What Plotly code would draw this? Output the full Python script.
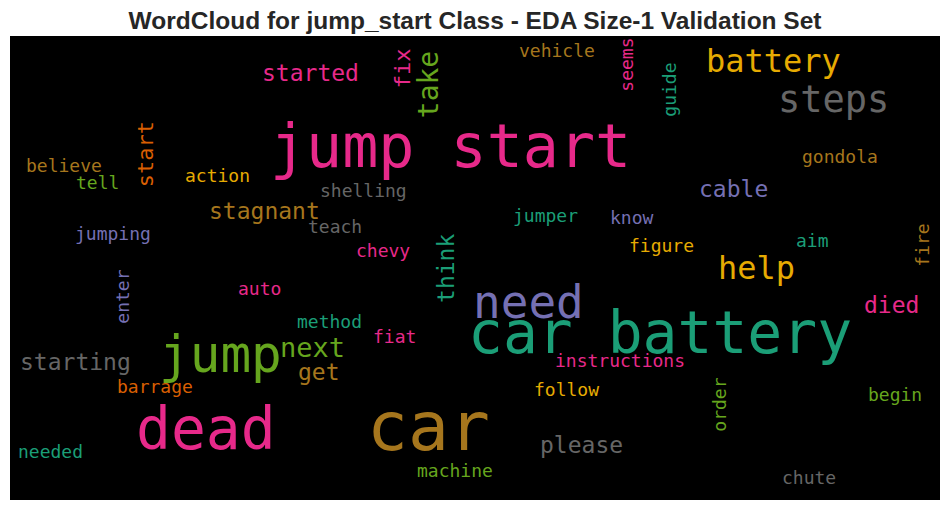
import plotly.graph_objects as go

# Word cloud words.
words = ['jump start', 'car battery', 'car', 'dead', 'jump', 'need', 'steps',
         'battery', 'help', 'take', 'next', 'started', 'fix', 'stagnant', 'cable',
         'think', 'died', 'starting', 'get', 'please', 'start', 'believe', 'tell',
         'action', 'shelling', 'teach', 'jumping', 'chevy', 'vehicle', 'seems',
         'guide', 'gondola', 'jumper', 'know', 'aim', 'figure', 'fire', 'enter',
         'auto', 'method', 'fiat', 'barrage', 'needed', 'machine', 'instructions',
         'follow', 'order', 'begin', 'chute']
# x: ink centre (or baseline for vertical words), y: baseline (or ink centre for vertical words), in pixels
x = [450, 660, 428, 206, 220, 528, 833,
     773, 756, 438, 312, 310, 410, 264, 733,
     454, 891, 75, 319, 581, 153, 64, 97,
     217, 363, 335, 113, 383, 557, 632,
     675, 840, 545, 632, 812, 661, 928, 128,
     259, 329, 394, 155, 50, 455, 620,
     566, 725, 895, 809]
y = [167, 353, 450, 449, 372, 318, 112,
     72, 279, 85, 357, 81, 68, 219, 197,
     268, 313, 370, 380, 453, 154, 172, 189,
     182, 197, 233, 240, 257, 57, 65,
     90, 163, 222, 224, 247, 252, 245, 297,
     295, 328, 343, 393, 458, 477, 367,
     396, 405, 401, 484]
sizes = [60, 58, 68, 58, 51, 46, 37,
         32, 32, 28, 27, 23, 22, 23, 23,
         23, 23, 23, 23, 23, 22, 18, 18,
         18, 18, 18, 18, 18, 18, 18,
         18, 18, 18, 18, 18, 18, 18, 18,
         18, 18, 18, 18, 18, 18, 18,
         18, 18, 18, 18]
colors = ['#e7298a', '#1b9e77', '#a6761d', '#e7298a', '#66a61e', '#7570b3', '#666666',
          '#e6ab02', '#e6ab02', '#66a61e', '#66a61e', '#e7298a', '#e7298a', '#a6761d', '#7570b3',
          '#1b9e77', '#e7298a', '#666666', '#a6761d', '#666666', '#d95f02', '#a6761d', '#66a61e',
          '#e6ab02', '#666666', '#666666', '#7570b3', '#e7298a', '#a6761d', '#e7298a',
          '#1b9e77', '#a6761d', '#1b9e77', '#7570b3', '#1b9e77', '#e6ab02', '#a6761d', '#7570b3',
          '#e7298a', '#1b9e77', '#e7298a', '#d95f02', '#1b9e77', '#66a61e', '#e7298a',
          '#e6ab02', '#66a61e', '#66a61e', '#666666']
vertical = ['take', 'fix', 'think', 'start', 'seems', 'guide', 'fire', 'enter', 'order']

# Generate word cloud.
fig = go.Figure()
for w, px, py, s, c in zip(words, x, y, sizes, colors):
    off = 0.35 * s  # baseline -> centre of text box
    if w in vertical:
        ax, ay, ang = px - off, py, -90
    else:
        ax, ay, ang = px, py - off, 0
    fig.add_annotation(x=ax, y=ay, xref='x', yref='y', text=w, showarrow=False,
                       textangle=ang, xanchor='center', yanchor='middle',
                       font=dict(family='DejaVu Sans Mono', size=s, color=c))

# The page body adds an 8px margin, so the figure is a bit smaller than the window.
fig.update_layout(
    width=942, height=503,
    margin=dict(l=2, r=10, t=28, b=11),
    paper_bgcolor='white', plot_bgcolor='black',
    title=dict(text='<b>WordCloud for jump_start Class - EDA Size-1 Validation Set</b>',
               x=0.4958, xanchor='center', xref='container',
               y=0.976, yanchor='middle', yref='container',
               font=dict(family='Liberation Sans, Arial', size=24.5, color='#262626')),
    xaxis=dict(range=[10, 940], visible=False, fixedrange=True),
    yaxis=dict(range=[500, 36], visible=False, fixedrange=True),
    showlegend=False,
)
fig.write_html('out.html')
